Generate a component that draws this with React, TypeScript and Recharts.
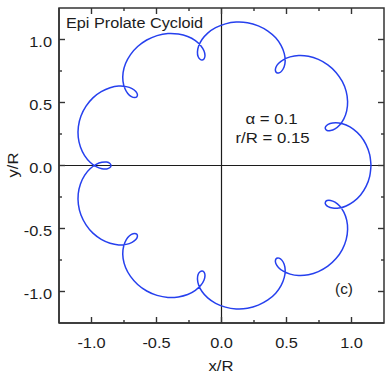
import { Line, LineChart, ReferenceArea, ReferenceLine, XAxis, YAxis } from 'recharts';

const curveX = [
  1.150, 1.140, 1.112, 1.070, 1.016, 0.959, 0.903, 0.855, 0.820, 0.801,
  0.799, 0.812, 0.839, 0.873, 0.909, 0.941, 0.963, 0.970, 0.959, 0.929,
  0.881, 0.818, 0.745, 0.669, 0.594, 0.528, 0.475, 0.438, 0.418, 0.415,
  0.425, 0.443, 0.464, 0.482, 0.490, 0.483, 0.459, 0.417, 0.357, 0.283,
  0.200, 0.113, 0.030, -0.045, -0.106, -0.150, -0.176, -0.185, -0.180, -0.165,
  -0.148, -0.133, -0.127, -0.135, -0.159, -0.201, -0.260, -0.332, -0.412, -0.496,
  -0.575, -0.645, -0.700, -0.738, -0.757, -0.758, -0.744, -0.721, -0.693, -0.668,
  -0.651, -0.647, -0.659, -0.688, -0.733, -0.791, -0.857, -0.925, -0.989, -1.042,
  -1.081, -1.101, -1.102, -1.085, -1.053, -1.011, -0.964, -0.920, -0.883, -0.858,
  -0.850,
  -0.858, -0.883, -0.920, -0.964, -1.011, -1.053, -1.085, -1.102, -1.101, -1.081,
  -1.042, -0.989, -0.925, -0.857, -0.791, -0.733, -0.688, -0.659, -0.647, -0.651,
  -0.668, -0.693, -0.721, -0.744, -0.758, -0.757, -0.738, -0.700, -0.645, -0.575,
  -0.496, -0.412, -0.332, -0.260, -0.201, -0.159, -0.135, -0.127, -0.133, -0.148,
  -0.165, -0.180, -0.185, -0.176, -0.150, -0.106, -0.045, 0.030, 0.113, 0.200,
  0.283, 0.357, 0.417, 0.459, 0.483, 0.490, 0.482, 0.464, 0.443, 0.425,
  0.415, 0.418, 0.438, 0.475, 0.528, 0.594, 0.669, 0.745, 0.818, 0.881,
  0.929, 0.959, 0.970, 0.963, 0.941, 0.909, 0.873, 0.839, 0.812, 0.799,
  0.801, 0.820, 0.855, 0.903, 0.959, 1.016, 1.070, 1.112, 1.140, 1.150,
];

const curveY = [
  0, 0.086, 0.166, 0.234, 0.287, 0.321, 0.338, 0.338, 0.327, 0.309,
  0.291, 0.278, 0.277, 0.291, 0.322, 0.370, 0.434, 0.508, 0.588, 0.667,
  0.739, 0.799, 0.842, 0.867, 0.873, 0.862, 0.839, 0.809, 0.778, 0.752,
  0.736, 0.735, 0.751, 0.784, 0.831, 0.888, 0.951, 1.013, 1.067, 1.108,
  1.133, 1.138, 1.124, 1.094, 1.051, 1.000, 0.948, 0.901, 0.865, 0.843,
  0.837, 0.848, 0.874, 0.910, 0.951, 0.991, 1.024, 1.043, 1.047, 1.031,
  0.996, 0.944, 0.880, 0.809, 0.737, 0.670, 0.613, 0.572, 0.547, 0.539,
  0.546, 0.564, 0.588, 0.610, 0.626, 0.630, 0.617, 0.586, 0.537, 0.471,
  0.393, 0.309, 0.224, 0.146, 0.078, 0.026, -0.009, -0.025, -0.027, -0.016,
  0,
  0.016, 0.027, 0.025, 0.009, -0.026, -0.078, -0.146, -0.224, -0.309, -0.393,
  -0.471, -0.537, -0.586, -0.617, -0.630, -0.626, -0.610, -0.588, -0.564, -0.546,
  -0.539, -0.547, -0.572, -0.613, -0.670, -0.737, -0.809, -0.880, -0.944, -0.996,
  -1.031, -1.047, -1.043, -1.024, -0.991, -0.951, -0.910, -0.874, -0.848, -0.837,
  -0.843, -0.865, -0.901, -0.948, -1.000, -1.051, -1.094, -1.124, -1.138, -1.133,
  -1.108, -1.067, -1.013, -0.951, -0.888, -0.831, -0.784, -0.751, -0.735, -0.736,
  -0.752, -0.778, -0.809, -0.839, -0.862, -0.873, -0.867, -0.842, -0.799, -0.739,
  -0.667, -0.588, -0.508, -0.434, -0.370, -0.322, -0.291, -0.277, -0.278, -0.291,
  -0.309, -0.327, -0.338, -0.338, -0.321, -0.287, -0.234, -0.166, -0.086, 0,
];

const axisDomain = [-1.25, 1.25];
const majorTicks = [-1, -0.5, 0, 0.5, 1];
const minorTicks = [-0.75, -0.25, 0.25, 0.75];
const tickLabels = ['-1.0', '-0.5', '0.0', '0.5', '1.0'];
const allTicks = [...majorTicks, ...minorTicks].sort((a, b) => a - b);

const data = curveX.map((x, i) => ({ x, y: curveY[i] }));

const W = 388;
const H = 384;
const M = { top: 8, right: 4, bottom: 0, left: 0 };
const PLOT_TOP = M.top;
const PLOT_RIGHT = W - M.right;

const FRAME = '#333333';
const INK = '#1c1c1c';
const CURVE = '#2640ee';
const FONT = '"Liberation Sans", Arial, sans-serif';

const isMajor = (v: number) => majorTicks.includes(v);
const labelOf = (v: number) => tickLabels[majorTicks.indexOf(v)];

// ticks point into the plot on all four sides, like the original frame
function BottomTick({ x, y, payload }: any) {
  const major = isMajor(payload.value);
  const len = major ? 6 : 3;
  return (
    <g>
      <line x1={x} x2={x} y1={y} y2={y - len} stroke={FRAME} strokeWidth={1.4} />
      <line x1={x} x2={x} y1={PLOT_TOP} y2={PLOT_TOP + len} stroke={FRAME} strokeWidth={1.4} />
      {major && (
        <text transform={`translate(${x},${y + 25}) scale(1.17,1)`} textAnchor="middle" fontSize={14} fontFamily={FONT} fill={INK}>
          {labelOf(payload.value)}
        </text>
      )}
    </g>
  );
}

function LeftTick({ x, y, payload }: any) {
  const major = isMajor(payload.value);
  const len = major ? 6 : 3;
  return (
    <g>
      <line x1={x} x2={x + len} y1={y} y2={y} stroke={FRAME} strokeWidth={1.4} />
      <line x1={PLOT_RIGHT} x2={PLOT_RIGHT - len} y1={y} y2={y} stroke={FRAME} strokeWidth={1.4} />
      {major && (
        <text transform={`translate(${x - 7},${y + 7}) scale(1.17,1)`} textAnchor="end" fontSize={14} fontFamily={FONT} fill={INK}>
          {labelOf(payload.value)}
        </text>
      )}
    </g>
  );
}

function Note({ x, y, size = 14, sx = 1.15, anchor = 'middle', rotate = 0, children }: any) {
  return (
    <text
      transform={`translate(${x},${y}) rotate(${rotate}) scale(${sx},1)`}
      textAnchor={anchor}
      fontSize={size}
      fontFamily={FONT}
      fill={INK}
    >
      {children}
    </text>
  );
}

export default function App() {
  const axisLine = { stroke: FRAME, strokeWidth: 1.5 };
  return (
    <div style={{ position: 'absolute', left: 0, top: 0 }}>
      <LineChart width={W} height={H} data={data} margin={M}>
        <XAxis
          dataKey="x"
          type="number"
          domain={axisDomain}
          allowDataOverflow
          ticks={allTicks}
          interval={0}
          tickSize={0}
          tickMargin={0}
          tickLine={false}
          axisLine={axisLine}
          tick={BottomTick}
          height={61}
        />
        <YAxis
          dataKey="y"
          type="number"
          domain={axisDomain}
          allowDataOverflow
          ticks={allTicks}
          interval={0}
          tickSize={0}
          tickMargin={0}
          tickLine={false}
          axisLine={axisLine}
          tick={LeftTick}
          width={59}
        />
        <ReferenceArea
          x1={axisDomain[0]}
          x2={axisDomain[1]}
          y1={axisDomain[0]}
          y2={axisDomain[1]}
          fill="#ffffff"
          fillOpacity={0}
          stroke={FRAME}
          strokeWidth={1.5}
          strokeOpacity={1}
        />
        <ReferenceLine x={0} stroke={INK} strokeWidth={1.2} />
        <ReferenceLine y={0} stroke={INK} strokeWidth={1.2} />
        <Line
          dataKey="y"
          type="natural"
          stroke={CURVE}
          strokeWidth={1.5}
          dot={false}
          activeDot={false}
          isAnimationActive={false}
        />
        <Note x={66} y={27.5} anchor="start" sx={1.16}>Epi Prolate Cycloid</Note>
        <Note x={271.5} y={123.5} size={15} sx={1.12}>α = 0.1</Note>
        <Note x={272.5} y={143} size={15} sx={1.12}>r/R = 0.15</Note>
        <Note x={344} y={294} sx={1.1}>(c)</Note>
        <Note x={221} y={371} size={15} sx={1.11}>x/R</Note>
        <Note x={17.5} y={165} size={15} sx={1.11} rotate={-90}>y/R</Note>
      </LineChart>
    </div>
  );
}
